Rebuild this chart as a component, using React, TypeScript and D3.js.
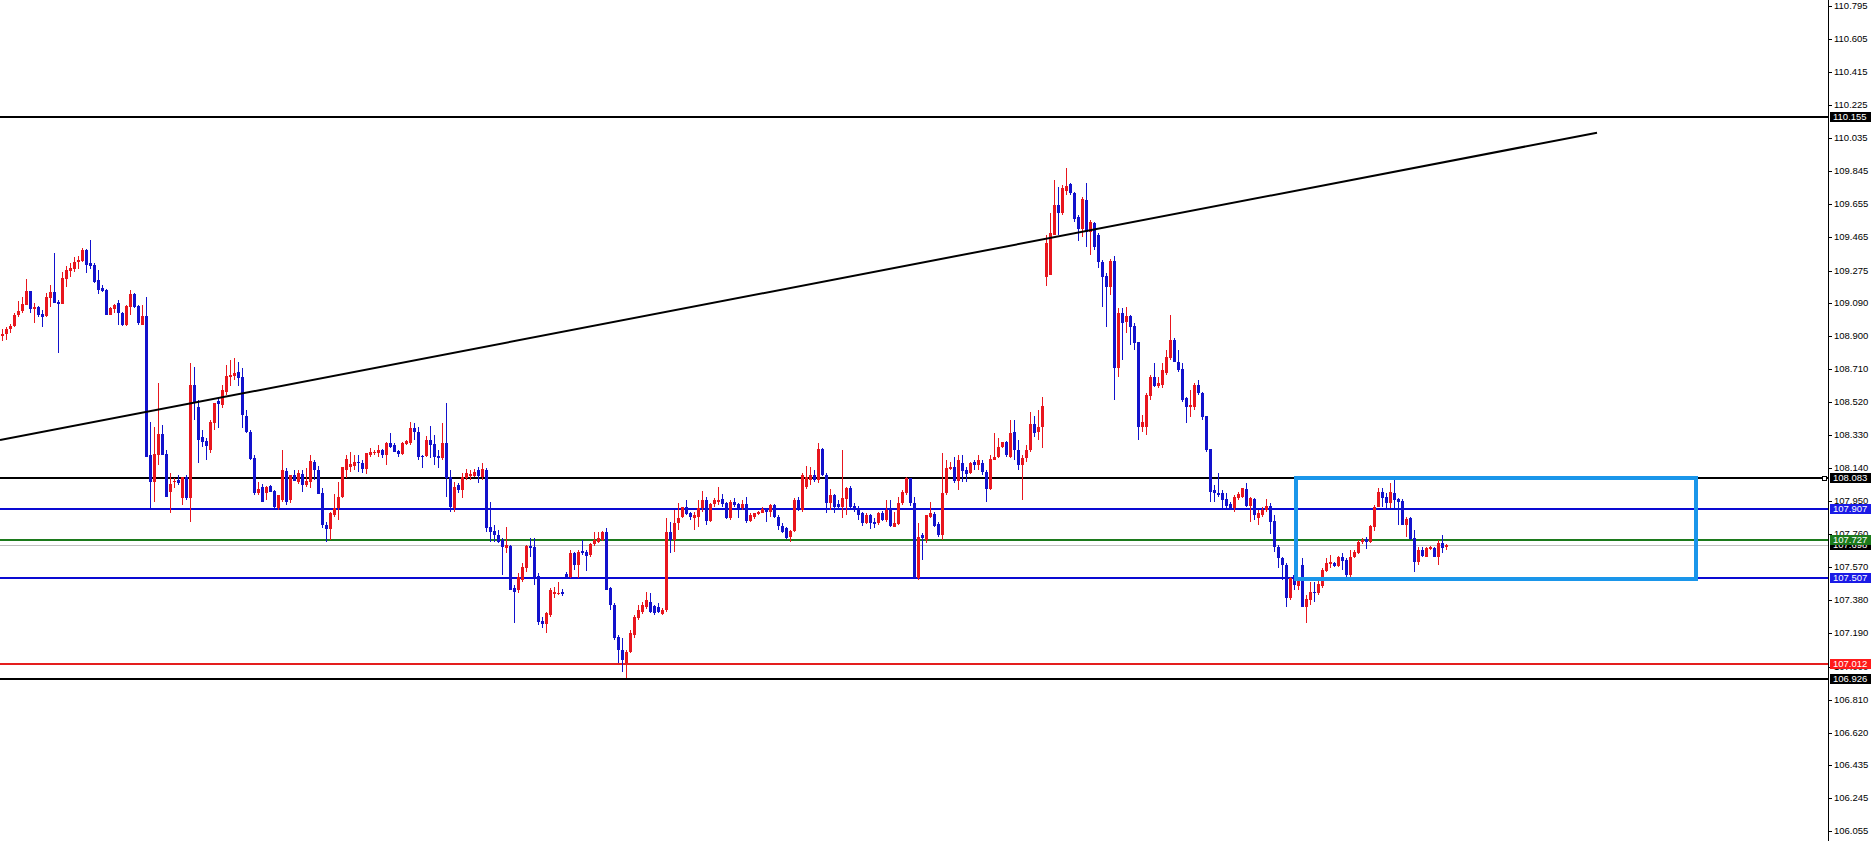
import { useMemo } from "react";
import * as d3 from "d3";

// Bougies (open / high / low / close), une par colonne de 4 px
const opens = [
  108.899, 108.910, 108.939, 108.956, 109.019, 109.042, 109.076, 109.157, 109.054, 109.065,
  109.025, 109.014, 109.117, 109.151, 109.094, 109.082, 109.226, 109.272, 109.284, 109.324,
  109.329, 109.393, 109.318, 109.307, 109.220, 109.174, 109.163, 109.019, 109.054, 109.088,
  109.031, 108.962, 109.065, 109.140, 109.071, 108.962, 109.014, 108.215, 108.060, 108.215,
  108.336, 108.221, 108.002, 108.060, 108.071, 107.968, 108.089, 107.968, 108.617, 108.491,
  108.319, 108.296, 108.244, 108.399, 108.525, 108.502, 108.577, 108.663, 108.669, 108.692,
  108.663, 108.439, 108.347, 108.198, 107.997, 108.031, 107.997, 108.037, 108.008, 107.911,
  107.957, 108.123, 107.957, 108.100, 108.060, 108.106, 108.043, 108.060, 108.175, 108.129,
  107.997, 107.813, 107.790, 107.870, 107.911, 107.974, 108.129, 108.146, 108.152, 108.175,
  108.169, 108.135, 108.215, 108.227, 108.227, 108.244, 108.215, 108.284, 108.273, 108.238,
  108.221, 108.278, 108.284, 108.370, 108.347, 108.209, 108.209, 108.301, 108.278, 108.209,
  108.198, 108.284, 108.089, 107.911, 108.043, 108.014, 108.083, 108.094, 108.094, 108.129,
  108.089, 108.129, 107.802, 107.778, 107.756, 107.727, 107.681, 107.692, 107.451, 107.439,
  107.497, 107.566, 107.692, 107.686, 107.520, 107.261, 107.244, 107.296, 107.416, 107.422,
  107.428, 107.531, 107.514, 107.652, 107.583, 107.663, 107.658, 107.640, 107.704, 107.715,
  107.727, 107.773, 107.451, 107.353, 107.169, 107.095, 107.020, 107.083, 107.181, 107.278,
  107.313, 107.342, 107.370, 107.347, 107.342, 107.301, 107.325, 107.773, 107.727, 107.824,
  107.859, 107.917, 107.882, 107.853, 107.859, 107.911, 107.957, 107.836, 107.934, 107.945,
  107.962, 107.940, 107.853, 107.945, 107.934, 107.911, 107.934, 107.836, 107.859, 107.876,
  107.882, 107.905, 107.888, 107.928, 107.859, 107.807, 107.796, 107.744, 107.778, 107.957,
  107.899, 108.031, 108.071, 108.100, 108.071, 108.250, 108.100, 107.940, 107.985, 107.934,
  107.917, 107.962, 108.025, 107.922, 107.911, 107.882, 107.824, 107.870, 107.830, 107.824,
  107.882, 107.842, 107.899, 107.802, 107.819, 107.940, 107.997, 108.083, 107.940, 107.508,
  107.756, 107.727, 107.859, 107.876, 107.819, 107.756, 107.997, 108.135, 108.146, 108.066,
  108.169, 108.129, 108.112, 108.175, 108.157, 108.169, 108.117, 108.020, 108.186, 108.204,
  108.261, 108.290, 108.204, 108.347, 108.244, 108.157, 108.198, 108.244, 108.393, 108.347,
  108.376, 109.238, 109.249, 109.479, 109.651, 109.605, 109.732, 109.772, 109.720, 109.582,
  109.513, 109.680, 109.496, 109.548, 109.479, 109.324, 109.243, 109.180, 109.329, 108.715,
  109.031, 108.979, 109.014, 108.956, 108.864, 108.376, 108.376, 108.554, 108.663, 108.611,
  108.617, 108.686, 108.772, 108.876, 108.749, 108.709, 108.543, 108.491, 108.491, 108.617,
  108.571, 108.439, 108.250, 108.014, 107.997, 107.997, 107.962, 107.934, 107.911, 107.968,
  107.974, 108.020, 107.922, 107.962, 107.853, 107.870, 107.899, 107.922, 107.836, 107.686,
  107.623, 107.583, 107.393, 107.526, 107.462, 107.583, 107.342, 107.382, 107.428, 107.422,
  107.462, 107.549, 107.589, 107.594, 107.577, 107.629, 107.612, 107.526, 107.629, 107.652,
  107.715, 107.732, 107.715, 107.802, 107.917, 108.002, 107.974, 107.940, 107.997, 107.962,
  107.951, 107.813, 107.853, 107.738, 107.600, 107.669, 107.629, 107.675, 107.681, 107.629,
  107.709, 107.686,
];

const highs = [
  108.939, 108.951, 108.968, 109.031, 109.099, 109.123, 109.226, 109.157, 109.088, 109.071,
  109.048, 109.146, 109.192, 109.376, 109.105, 109.267, 109.301, 109.318, 109.353, 109.359,
  109.404, 109.399, 109.450, 109.318, 109.278, 109.192, 109.169, 109.065, 109.082, 109.105,
  109.036, 109.076, 109.163, 109.146, 109.076, 109.076, 109.123, 108.405, 108.376, 108.629,
  108.388, 108.244, 108.112, 108.083, 108.100, 108.089, 108.100, 108.744, 108.721, 108.531,
  108.359, 108.313, 108.416, 108.514, 108.543, 108.617, 108.732, 108.761, 108.772, 108.749,
  108.715, 108.474, 108.359, 108.215, 108.060, 108.048, 108.037, 108.043, 108.014, 107.979,
  108.244, 108.140, 108.100, 108.129, 108.129, 108.129, 108.140, 108.215, 108.186, 108.152,
  108.025, 107.830, 107.888, 107.991, 108.060, 108.146, 108.215, 108.232, 108.215, 108.215,
  108.186, 108.227, 108.255, 108.244, 108.273, 108.250, 108.290, 108.342, 108.284, 108.244,
  108.290, 108.301, 108.405, 108.399, 108.376, 108.215, 108.324, 108.382, 108.330, 108.244,
  108.399, 108.514, 108.129, 108.060, 108.054, 108.112, 108.135, 108.129, 108.135, 108.146,
  108.169, 108.140, 107.945, 107.813, 107.784, 107.738, 107.802, 107.698, 107.468, 107.537,
  107.594, 107.698, 107.738, 107.738, 107.537, 107.284, 107.313, 107.451, 107.457, 107.485,
  107.445, 107.543, 107.669, 107.658, 107.669, 107.727, 107.669, 107.709, 107.773, 107.773,
  107.778, 107.796, 107.457, 107.365, 107.181, 107.164, 107.095, 107.210, 107.296, 107.353,
  107.370, 107.428, 107.422, 107.353, 107.365, 107.336, 107.853, 107.830, 107.899, 107.940,
  107.917, 107.957, 107.888, 107.888, 107.957, 108.008, 107.974, 107.940, 107.968, 108.031,
  107.991, 107.945, 107.957, 107.968, 107.940, 107.957, 107.974, 107.882, 107.882, 107.894,
  107.917, 107.911, 107.934, 107.934, 107.870, 107.824, 107.802, 107.784, 107.968, 107.974,
  108.112, 108.152, 108.146, 108.129, 108.284, 108.255, 108.112, 108.020, 107.991, 107.957,
  108.244, 108.031, 108.037, 107.940, 107.922, 107.888, 107.882, 107.876, 107.853, 107.888,
  107.894, 107.957, 107.957, 107.888, 107.974, 108.014, 108.089, 108.083, 107.974, 107.824,
  107.767, 107.870, 107.945, 107.888, 107.830, 108.227, 108.186, 108.175, 108.204, 108.215,
  108.215, 108.146, 108.175, 108.186, 108.215, 108.186, 108.129, 108.215, 108.342, 108.313,
  108.290, 108.296, 108.416, 108.416, 108.301, 108.215, 108.273, 108.462, 108.439, 108.474,
  108.548, 109.479, 109.605, 109.795, 109.755, 109.766, 109.864, 109.778, 109.726, 109.594,
  109.697, 109.778, 109.565, 109.554, 109.490, 109.335, 109.261, 109.341, 109.359, 109.059,
  109.059, 109.065, 109.019, 108.974, 108.864, 108.445, 108.571, 108.675, 108.744, 108.663,
  108.744, 108.818, 109.019, 108.887, 108.818, 108.744, 108.548, 108.588, 108.629, 108.646,
  108.577, 108.439, 108.250, 108.043, 108.112, 108.014, 107.997, 107.945, 107.985, 108.002,
  108.025, 108.054, 107.974, 107.968, 107.899, 107.917, 107.962, 107.940, 107.870, 107.698,
  107.629, 107.594, 107.514, 107.612, 107.508, 107.623, 107.411, 107.485, 107.485, 107.497,
  107.566, 107.623, 107.640, 107.600, 107.635, 107.652, 107.623, 107.669, 107.669, 107.727,
  107.738, 107.744, 107.813, 107.928, 108.025, 108.025, 107.997, 108.054, 108.071, 107.968,
  107.962, 107.859, 107.859, 107.784, 107.686, 107.686, 107.686, 107.692, 107.686, 107.727,
  107.756, 107.704,
];

const lows = [
  108.870, 108.876, 108.916, 108.951, 109.008, 109.031, 109.076, 109.031, 108.974, 109.008,
  108.951, 109.008, 109.065, 109.088, 108.801, 109.082, 109.180, 109.238, 109.267, 109.284,
  109.324, 109.261, 109.284, 109.203, 109.140, 109.151, 109.019, 109.019, 109.031, 108.962,
  108.956, 108.956, 109.019, 109.059, 108.962, 108.962, 108.204, 107.911, 107.945, 108.157,
  108.215, 107.974, 107.882, 108.025, 108.043, 107.928, 107.957, 107.831, 108.416, 108.169,
  108.261, 108.186, 108.227, 108.359, 108.370, 108.485, 108.560, 108.611, 108.646, 108.611,
  108.370, 108.342, 108.186, 107.985, 107.985, 107.945, 107.957, 108.002, 107.911, 107.899,
  107.945, 107.928, 107.940, 108.066, 108.048, 108.002, 108.031, 108.025, 108.071, 107.991,
  107.796, 107.715, 107.727, 107.859, 107.842, 107.968, 108.083, 108.117, 108.129, 108.117,
  108.112, 108.106, 108.204, 108.215, 108.204, 108.198, 108.157, 108.255, 108.232, 108.204,
  108.215, 108.273, 108.273, 108.301, 108.186, 108.140, 108.204, 108.198, 108.157, 108.140,
  108.186, 107.974, 107.888, 107.888, 107.997, 107.968, 108.071, 108.071, 108.089, 108.054,
  108.071, 107.773, 107.715, 107.715, 107.710, 107.526, 107.652, 107.439, 107.250, 107.422,
  107.485, 107.543, 107.629, 107.468, 107.238, 107.221, 107.192, 107.284, 107.393, 107.411,
  107.405, 107.508, 107.508, 107.554, 107.508, 107.640, 107.549, 107.629, 107.692, 107.709,
  107.721, 107.439, 107.325, 107.152, 107.020, 106.968, 106.934, 107.077, 107.164, 107.267,
  107.301, 107.330, 107.307, 107.296, 107.307, 107.296, 107.313, 107.652, 107.658, 107.784,
  107.853, 107.870, 107.842, 107.784, 107.802, 107.888, 107.813, 107.830, 107.917, 107.928,
  107.917, 107.847, 107.842, 107.917, 107.853, 107.899, 107.824, 107.830, 107.847, 107.870,
  107.882, 107.830, 107.859, 107.853, 107.784, 107.767, 107.732, 107.715, 107.773, 107.894,
  107.888, 108.020, 108.043, 108.060, 108.054, 108.094, 107.882, 107.899, 107.882, 107.899,
  107.853, 107.870, 107.911, 107.888, 107.842, 107.807, 107.819, 107.790, 107.796, 107.813,
  107.836, 107.830, 107.802, 107.802, 107.813, 107.928, 107.985, 107.922, 107.508, 107.497,
  107.612, 107.709, 107.853, 107.802, 107.744, 107.727, 107.985, 108.129, 108.054, 108.014,
  108.060, 108.060, 108.106, 108.129, 108.129, 108.100, 107.945, 108.014, 108.186, 108.198,
  108.255, 108.204, 108.198, 108.186, 108.129, 107.957, 108.175, 108.232, 108.319, 108.301,
  108.255, 109.186, 109.249, 109.479, 109.479, 109.594, 109.709, 109.709, 109.554, 109.444,
  109.467, 109.410, 109.364, 109.393, 109.289, 109.065, 108.951, 109.134, 108.531, 108.663,
  108.761, 108.916, 108.847, 108.818, 108.301, 108.347, 108.330, 108.531, 108.606, 108.600,
  108.600, 108.675, 108.761, 108.749, 108.692, 108.520, 108.399, 108.433, 108.474, 108.560,
  108.416, 108.232, 107.945, 107.945, 107.974, 107.911, 107.911, 107.899, 107.888, 107.957,
  107.968, 107.917, 107.830, 107.842, 107.813, 107.859, 107.888, 107.761, 107.658, 107.566,
  107.497, 107.342, 107.382, 107.439, 107.439, 107.342, 107.250, 107.353, 107.370, 107.411,
  107.451, 107.543, 107.566, 107.572, 107.572, 107.554, 107.514, 107.514, 107.623, 107.646,
  107.704, 107.675, 107.709, 107.778, 107.917, 107.917, 107.911, 107.911, 107.911, 107.813,
  107.813, 107.744, 107.727, 107.543, 107.583, 107.629, 107.629, 107.669, 107.629, 107.583,
  107.652, 107.669,
];

const closes = [
  108.910, 108.939, 108.956, 109.019, 109.042, 109.082, 109.157, 109.054, 109.065, 109.019,
  109.008, 109.123, 109.151, 109.088, 109.082, 109.232, 109.278, 109.289, 109.324, 109.335,
  109.393, 109.307, 109.301, 109.209, 109.163, 109.157, 109.019, 109.059, 109.076, 109.031,
  108.962, 109.071, 109.140, 109.065, 108.974, 109.014, 108.204, 108.060, 108.221, 108.336,
  108.215, 107.974, 108.048, 108.066, 108.054, 108.089, 107.968, 108.617, 108.514, 108.301,
  108.290, 108.267, 108.405, 108.514, 108.508, 108.588, 108.669, 108.675, 108.686, 108.657,
  108.445, 108.347, 108.192, 107.997, 108.020, 107.945, 108.031, 108.002, 107.917, 107.985,
  108.129, 107.945, 108.100, 108.066, 108.112, 108.043, 108.066, 108.181, 108.129, 107.991,
  107.813, 107.790, 107.882, 107.911, 107.974, 108.146, 108.192, 108.163, 108.175, 108.169,
  108.135, 108.227, 108.232, 108.232, 108.244, 108.215, 108.284, 108.261, 108.232, 108.221,
  108.284, 108.296, 108.370, 108.347, 108.204, 108.207, 108.301, 108.273, 108.204, 108.198,
  108.284, 108.083, 107.917, 108.031, 108.014, 108.089, 108.112, 108.106, 108.117, 108.094,
  108.135, 107.796, 107.773, 107.756, 107.715, 107.686, 107.698, 107.439, 107.428, 107.514,
  107.572, 107.692, 107.681, 107.514, 107.256, 107.244, 107.307, 107.439, 107.428, 107.425,
  107.416, 107.514, 107.652, 107.583, 107.658, 107.652, 107.635, 107.704, 107.727, 107.738,
  107.773, 107.439, 107.353, 107.164, 107.095, 107.037, 107.083, 107.192, 107.284, 107.325,
  107.353, 107.382, 107.313, 107.307, 107.313, 107.325, 107.773, 107.727, 107.824, 107.853,
  107.917, 107.876, 107.859, 107.870, 107.911, 107.957, 107.836, 107.934, 107.957, 107.957,
  107.934, 107.853, 107.945, 107.928, 107.911, 107.934, 107.836, 107.870, 107.882, 107.888,
  107.905, 107.888, 107.928, 107.859, 107.807, 107.773, 107.738, 107.778, 107.957, 107.905,
  108.100, 108.089, 108.100, 108.071, 108.250, 108.100, 107.940, 107.985, 107.917, 107.917,
  107.968, 108.025, 107.917, 107.905, 107.870, 107.824, 107.870, 107.824, 107.819, 107.882,
  107.842, 107.899, 107.807, 107.824, 107.940, 108.002, 108.083, 107.940, 107.508, 107.744,
  107.738, 107.870, 107.882, 107.807, 107.756, 107.997, 108.140, 108.146, 108.066, 108.186,
  108.123, 108.106, 108.169, 108.157, 108.186, 108.117, 108.020, 108.192, 108.204, 108.261,
  108.290, 108.215, 108.342, 108.244, 108.157, 108.198, 108.244, 108.393, 108.342, 108.376,
  108.497, 109.433, 109.490, 109.651, 109.605, 109.749, 109.760, 109.720, 109.571, 109.513,
  109.686, 109.496, 109.554, 109.410, 109.324, 109.238, 109.180, 109.329, 108.715, 109.031,
  108.974, 109.014, 108.951, 108.859, 108.376, 108.405, 108.560, 108.663, 108.611, 108.629,
  108.703, 108.778, 108.876, 108.749, 108.703, 108.531, 108.491, 108.502, 108.617, 108.571,
  108.433, 108.244, 108.002, 107.997, 107.985, 107.957, 107.922, 107.911, 107.974, 107.991,
  108.025, 107.922, 107.968, 107.870, 107.882, 107.899, 107.922, 107.830, 107.686, 107.623,
  107.583, 107.393, 107.508, 107.468, 107.508, 107.342, 107.388, 107.428, 107.422, 107.474,
  107.554, 107.594, 107.600, 107.577, 107.629, 107.606, 107.526, 107.629, 107.658, 107.715,
  107.727, 107.715, 107.807, 107.917, 108.002, 107.968, 107.940, 108.002, 107.957, 107.945,
  107.813, 107.847, 107.732, 107.600, 107.669, 107.635, 107.681, 107.686, 107.629, 107.709,
  107.681, 107.698,
];

// Graduations de l'axe des prix
const priceTicks = [
  110.795, 110.605, 110.415, 110.225, 110.035, 109.845, 109.655, 109.465, 109.275, 109.09,
  108.9, 108.71, 108.52, 108.33, 108.14, 107.95, 107.76, 107.57, 107.38, 107.19, 107.0,
  106.81, 106.62, 106.435, 106.245, 106.055,
];

// Niveaux horizontaux tracés
const levelPrices = [110.155, 108.083, 107.907, 107.727, 107.507, 107.012, 106.926];
const bidPrice = 107.698;

// Ligne de tendance : deux points (indice de bougie, prix)
const trendIdx = [-0.5, 398.75];
const trendPrice = [108.301, 110.067];

// Rectangle : de l'indice 323.5 à 423.5, entre deux prix
const boxIdx = [323.5, 423.5];
const boxPrice = [108.083, 107.505];

const W = 1875;
const H = 841;
const AXIS_X = 1828;

const levelColor: Record<number, string> = {
  110.155: "#000000",
  108.083: "#000000",
  107.907: "#0a0ad2",
  107.727: "#1c7a1c",
  107.507: "#0a0ad2",
  107.012: "#e41e1e",
  106.926: "#000000",
};

const UP = "#e8161e";
const DOWN = "#1212cc";

export default function App() {
  const x = useMemo(() => d3.scaleLinear().domain([0, 361]).range([2, 1446]), []);
  const y = useMemo(() => d3.scaleLinear().domain([106.055, 110.795]).range([831, 6]), []);

  const candles = opens.map((o, i) => ({ o, h: highs[i], l: lows[i], c: closes[i], i }));
  const fmt = d3.format(".3f");

  const labelBox = (p: number, fill: string, key: string) => {
    const yy = Math.round(y(p));
    return (
      <g key={key}>
        <rect x={1830} y={yy - 5} width={41} height={10} fill={fill} />
        <text
          x={1833}
          y={yy}
          dy="0.35em"
          fill="#ffffff"
          fontSize={9.5}
          fontFamily="'Liberation Sans', Arial, sans-serif"
        >
          {fmt(p)}
        </text>
      </g>
    );
  };

  const bx0 = Math.round(x(boxIdx[0]));
  const bx1 = Math.round(x(boxIdx[1]));
  const by0 = Math.round(y(boxPrice[0]));
  const by1 = Math.round(y(boxPrice[1]));

  return (
    <div style={{ position: "absolute", left: 0, top: 0 }}>
      <svg width={W} height={H} style={{ display: "block", background: "#ffffff" }}>
        <rect x={0} y={0} width={W} height={H} fill="#ffffff" />

        {/* ligne du bid */}
        <line
          x1={0}
          x2={AXIS_X}
          y1={Math.round(y(bidPrice)) + 0.5}
          y2={Math.round(y(bidPrice)) + 0.5}
          stroke="#c0c0c0"
          strokeWidth={1}
        />

        {/* niveaux */}
        {levelPrices.map((p) => (
          <line
            key={p}
            x1={0}
            x2={AXIS_X}
            y1={Math.round(y(p))}
            y2={Math.round(y(p))}
            stroke={levelColor[p]}
            strokeWidth={2}
            shapeRendering="crispEdges"
          />
        ))}

        {/* bougies */}
        <g shapeRendering="crispEdges">
          {candles.map((d) => {
            const cx = Math.round(x(d.i));
            const col = d.c >= d.o ? UP : DOWN;
            const top = Math.round(y(Math.max(d.o, d.c)));
            const bot = Math.round(y(Math.min(d.o, d.c)));
            return (
              <g key={d.i}>
                <rect
                  x={cx}
                  y={Math.round(y(d.h))}
                  width={1}
                  height={Math.max(1, Math.round(y(d.l)) - Math.round(y(d.h)))}
                  fill={col}
                />
                <rect x={cx - 1} y={top} width={3} height={Math.max(1, bot - top)} fill={col} />
              </g>
            );
          })}
        </g>

        {/* ligne de tendance */}
        <line
          x1={x(trendIdx[0])}
          y1={y(trendPrice[0])}
          x2={x(trendIdx[1])}
          y2={y(trendPrice[1])}
          stroke="#000000"
          strokeWidth={2}
        />

        {/* rectangle */}
        <rect
          x={bx0}
          y={by0}
          width={bx1 - bx0}
          height={by1 - by0}
          fill="none"
          stroke="#1a96ea"
          strokeWidth={3.5}
          shapeRendering="crispEdges"
        />

        {/* petit carré sur le niveau 108.083 */}
        <rect
          x={AXIS_X - 6}
          y={Math.round(y(108.083)) - 2}
          width={4}
          height={4}
          fill="#ffffff"
          stroke="#000000"
          strokeWidth={1}
          shapeRendering="crispEdges"
        />

        {/* axe des prix */}
        <line x1={AXIS_X + 0.5} x2={AXIS_X + 0.5} y1={0} y2={H} stroke="#000000" strokeWidth={1} />
        {priceTicks.map((t) => {
          const yy = Math.round(y(t));
          return (
            <g key={t}>
              <line x1={AXIS_X} x2={AXIS_X + 4} y1={yy + 0.5} y2={yy + 0.5} stroke="#000000" />
              <text
                x={1834}
                y={yy}
                dy="0.35em"
                fill="#000000"
                fontSize={9.5}
                fontFamily="'Liberation Sans', Arial, sans-serif"
              >
                {fmt(t)}
              </text>
            </g>
          );
        })}

        {/* étiquettes des niveaux (le bid passe sous le vert, comme sur l'original) */}
        {labelBox(110.155, "#000000", "l1")}
        {labelBox(108.083, "#000000", "l2")}
        {labelBox(107.907, "#1a1ae6", "l3")}
        {labelBox(bidPrice, "#000000", "lb")}
        {labelBox(107.727, "#1c7a1c", "l4")}
        {labelBox(107.507, "#1a1ae6", "l5")}
        {labelBox(107.012, "#ff1a1a", "l6")}
        {labelBox(106.926, "#000000", "l7")}
      </svg>
    </div>
  );
}
